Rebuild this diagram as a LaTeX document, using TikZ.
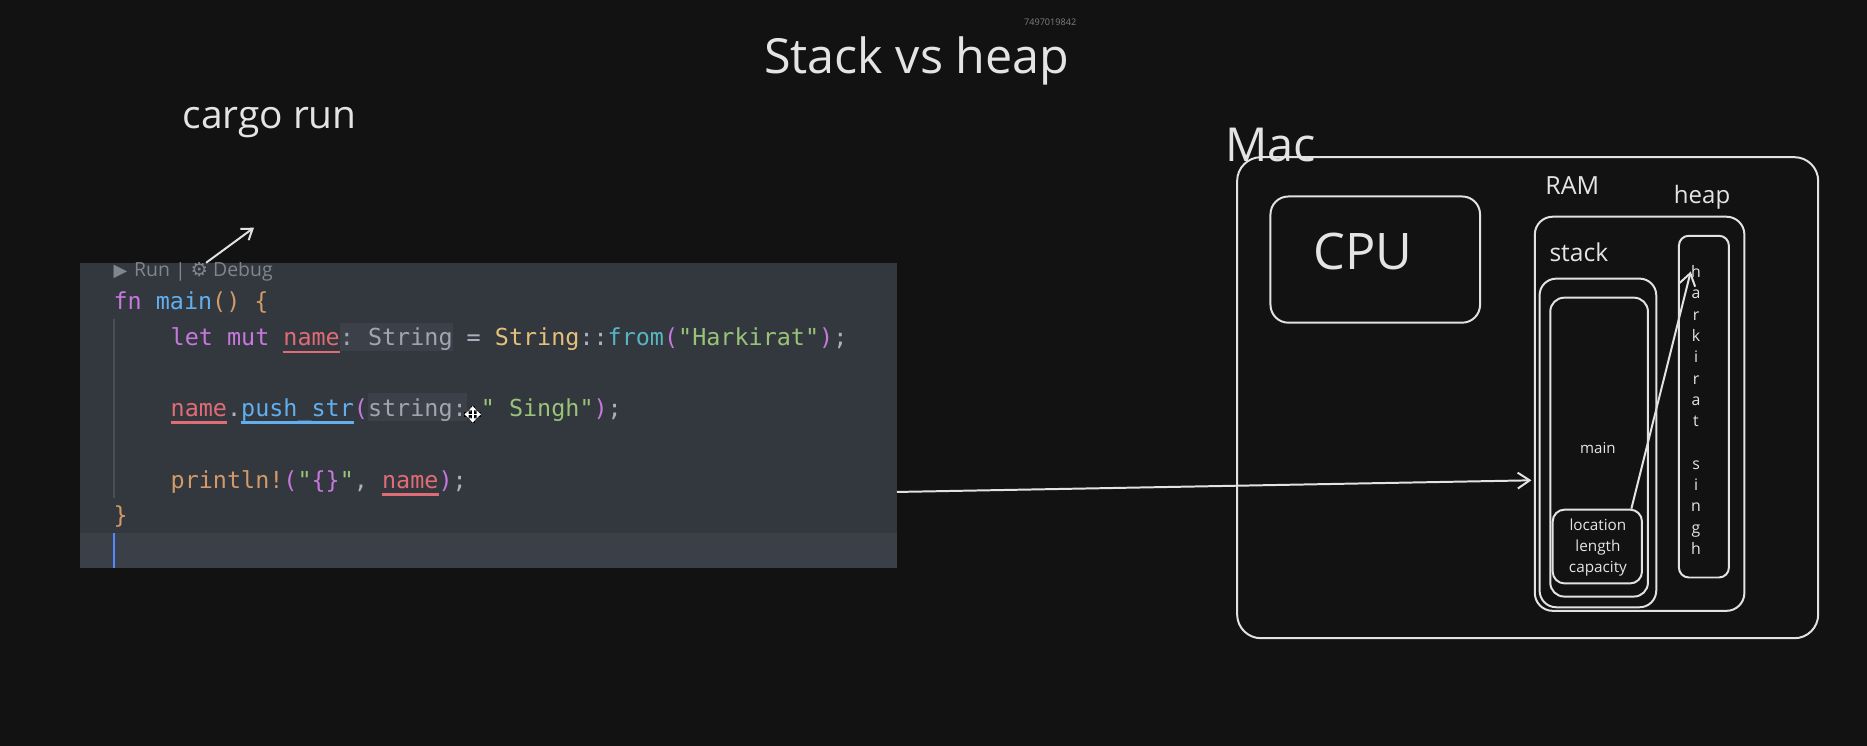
\documentclass[tikz,border=0pt]{standalone}
\usepackage{fontspec}
\usepackage{graphicx}
\setmainfont{Open Sans}
\setmonofont{DejaVu Sans Mono}
\newfontfamily\symf{DejaVu Sans}
\usetikzlibrary{arrows.meta,fit,calc}
\definecolor{bgc}{HTML}{121212}
\definecolor{codebg}{HTML}{33373E}
\definecolor{curline}{HTML}{3B3F47}
\definecolor{hintc}{HTML}{3C4048}
\definecolor{guide}{HTML}{4A4F57}
\definecolor{cKw}{HTML}{C678DD}
\definecolor{cFn}{HTML}{61AFEF}
\definecolor{cGold}{HTML}{D19A66}
\definecolor{cRed}{HTML}{E06C75}
\definecolor{cPunc}{HTML}{ABB2BF}
\definecolor{cHint}{HTML}{A0A6B0}
\definecolor{cType}{HTML}{E5C07B}
\definecolor{cCyan}{HTML}{56B6C2}
\definecolor{cStr}{HTML}{98C379}
\definecolor{cLens}{HTML}{80858E}
\definecolor{cCursor}{HTML}{528BFF}
\definecolor{skc}{HTML}{E2E2E2}
\definecolor{txtc}{HTML}{E4E4E4}
\newcommand\codefont{\ttfamily\fontsize{11.8}{14}\selectfont}
\newcommand\ulc[2]{\setbox0=\hbox{#2}\rlap{\color{#1}\rule[-3.8pt]{\wd0}{1.2pt}}\box0\relax}
\newcommand\hintbg[1]{\setbox0=\hbox{#1}\rlap{\color{hintc}\rule[-2.4pt]{\wd0}{14pt}}\box0\relax}
\tikzset{
  codel/.style={anchor=base west, inner sep=0pt, font=\codefont},
  lbl/.style={inner sep=0pt, text=txtc},
  sk/.style={draw=skc, line width=1pt, inner sep=0pt},
  arr/.style={draw=skc, line width=1pt, -{Straight Barb[length=6pt,width=8pt]}},
  hl/.style={lbl, font=\fontsize{8}{9}\selectfont, text height=6pt, text depth=0pt, anchor=center}
}
\begin{document}
\begin{tikzpicture}[x=0.6pt,y=-0.6pt]
\fill[bgc] (0,0) rectangle (1568,626.5);
\useasboundingbox (0,0) rectangle (1568,626.5);

% tiny id
\node[inner sep=0pt, text=gray, font=\fontsize{4.6}{5}\selectfont] (idnum) at (882,19) {7497019842};

% titles
\node[lbl, anchor=base, font=\fontsize{24.4}{28}\selectfont] (title) at (770,62) {Stack vs heap};
\node[lbl, anchor=base west, font=\fontsize{19.6}{24}\selectfont] (cargo) at (153,108) {cargo run};

% code box
\node[fill=codebg, inner sep=0pt, fit={(67,221)(753,477)}] (code) {};
\begin{scope}
\clip (code.south west) rectangle (code.north east);
\fill[curline] (67,448) rectangle (753,477);
\fill[cCursor] (94.5,448) rectangle (97,477);
\draw[guide, line width=0.8pt] (95.5,268) -- (95.5,418);
\node[anchor=base west, inner sep=0pt, text=cLens, font=\fontsize{9.8}{12}\selectfont] (lens) at (95,232.4)
  {{\symf\fontsize{9}{9}\selectfont ▶}\hspace{3.5pt}Run\hspace{2.5pt}|\hspace{2.5pt}{\symf ⚙}\hspace{2.5pt}Debug};
\node[codel] (l1) at (95,260) {\textcolor{cKw}{fn} \textcolor{cFn}{main}\textcolor{cGold}{() \{}};
\node[codel] (l2) at (143,290.5) {\textcolor{cKw}{let mut} \ulc{cRed}{\textcolor{cRed}{name}}\hintbg{\textcolor{cHint}{: String}} \textcolor{cPunc}{=} \textcolor{cType}{String}\textcolor{cPunc}{::}\textcolor{cCyan}{from}\textcolor{cKw}{(}\textcolor{cStr}{"Harkirat"}\textcolor{cKw}{)}\textcolor{cPunc}{;}};
\node[codel] (l3) at (143,349.4) {\ulc{cRed}{\textcolor{cRed}{name}}\textcolor{cPunc}{.}\ulc{cFn}{\textcolor{cFn}{push\_str}}\textcolor{cKw}{(}\hintbg{\textcolor{cHint}{string:}} \textcolor{cStr}{" Singh"}\textcolor{cKw}{)}\textcolor{cPunc}{;}};
\node[codel] (l4) at (143,410) {\textcolor{cGold}{println!}\textcolor{cKw}{(}\textcolor{cStr}{"}\textcolor{cKw}{\{\}}\textcolor{cStr}{"}\textcolor{cPunc}{,} \ulc{cRed}{\textcolor{cRed}{name}}\textcolor{cKw}{)}\textcolor{cPunc}{;}};
\node[codel] (l5) at (95,439.3) {\textcolor{cGold}{\}}};
% move cursor icon
\begin{scope}[shift={(397,348)}]
\draw[black, line width=2.2pt] (-7,0) -- (7,0) (0,-7) -- (0,7);
\draw[white, line width=0.8pt, {Triangle[length=2.2pt,width=3.6pt]}-{Triangle[length=2.2pt,width=3.6pt]}] (-7,0) -- (7,0);
\draw[white, line width=0.8pt, {Triangle[length=2.2pt,width=3.6pt]}-{Triangle[length=2.2pt,width=3.6pt]}] (0,-7) -- (0,7);
\end{scope}
\end{scope}

% small arrow above the code lens
\coordinate (runarr) at (213.3,191.2);
\draw[arr, -{Straight Barb[length=5pt,width=7pt]}] ($(code.north west)!0.155!(code.north east)$) -- (runarr);

% Mac machine
\node[sk, rounded corners=12pt, fit={(1039,132)(1527,536)}] (mac) {};
\node[lbl, anchor=base west, font=\fontsize{23.6}{28}\selectfont] (macl) at (1029,136) {Mac};
\node[sk, rounded corners=9pt, fit={(1067,165)(1243,271)}] (cpu) {};
\node[lbl, anchor=base, font=\fontsize{25.4}{30}\selectfont] (cpul) at (1144.5,226.6) {CPU};
\node[sk, rounded corners=9pt, fit={(1289,182)(1465,513)}] (ram) {};
\node[lbl, anchor=base west, font=\fontsize{12.6}{15}\selectfont] (raml) at (1297.5,163) {RAM};
\node[lbl, anchor=base west, font=\fontsize{12.1}{15}\selectfont] (heapl) at (1405.5,170.7) {heap};
\node[lbl, anchor=base west, font=\fontsize{12.4}{15}\selectfont] (stackl) at (1301,219.4) {stack};
\node[sk, rounded corners=8.4pt, fit={(1293,234)(1391,510)}] (stack) {};
\node[sk, rounded corners=7pt, fit={(1302,250)(1384,501)}] (mainf) {};
\node[lbl, anchor=base, font=\fontsize{7.6}{9}\selectfont] (mainl) at (1342,380.7) {main};
\node[sk, rounded corners=6pt, fit={(1304,428)(1379,490)}] (loc) {};
\node[lbl, align=center, font=\fontsize{7.7}{10.6}\selectfont] (loct) at (1342,459.5) {location\\length\\capacity};
\node[sk, rounded corners=5pt, fit={(1410,198)(1452,485)}] (heap) {};
\foreach \ch [count=\i] in {h,a,r,k,i,r,a,t} {
  \node[hl] (hk\i) at (1424.4,{228+17.9*(\i-1)}) {\ch};
}
\foreach \ch [count=\i] in {s,i,n,g,h} {
  \node[hl] (hs\i) at (1424.4,{228+17.9*(\i+8)}) {\ch};
}

% connectors
\draw[arr] ($(code.north east)!0.75!(code.south east)$) -- ($(ram.north west)!0.668!(ram.south west)+(-2,0)$);
\draw[arr] ($(loc.north west)!0.873!(loc.north east)$) -- (hk1.west);
\end{tikzpicture}
\end{document}
